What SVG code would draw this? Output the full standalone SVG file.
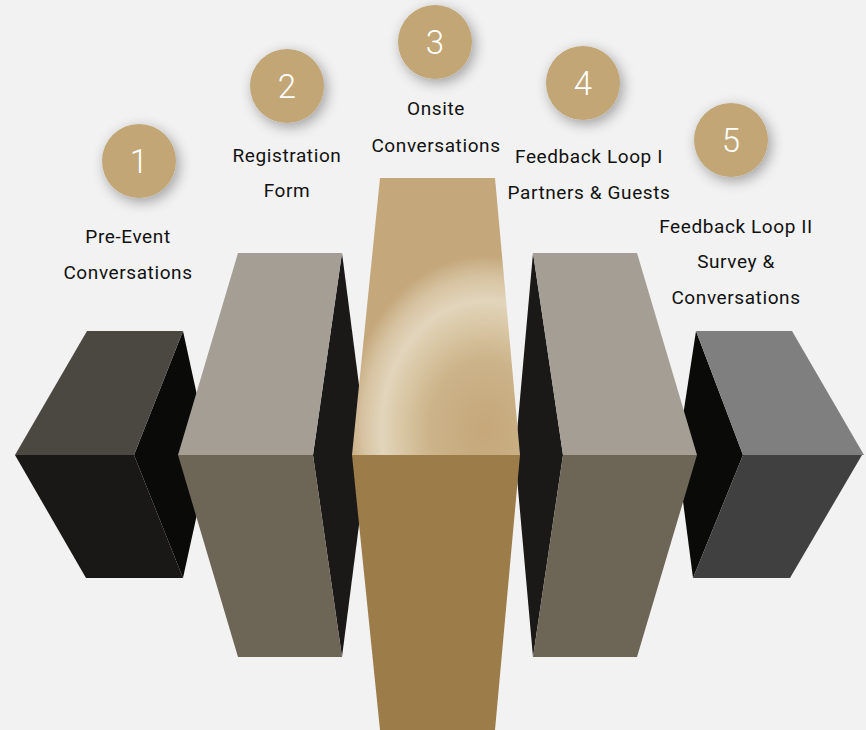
<svg xmlns="http://www.w3.org/2000/svg" width="866" height="730" viewBox="0 0 866 730">
<defs>
<radialGradient id="gold" gradientUnits="userSpaceOnUse" cx="0" cy="0" r="1" gradientTransform="translate(485 430) scale(140 175)">
<stop offset="0" stop-color="#c5a77a"/>
<stop offset="0.4" stop-color="#ccb389"/>
<stop offset="0.6" stop-color="#d9c7a5"/>
<stop offset="0.74" stop-color="#e2d5bc"/>
<stop offset="0.88" stop-color="#d6c2a0"/>
<stop offset="1" stop-color="#c4a77a"/>
</radialGradient>
<filter id="sh" x="-50%" y="-50%" width="200%" height="200%">
<feGaussianBlur in="SourceAlpha" stdDeviation="7"/>
<feOffset dx="3" dy="4" result="b"/>
<feComponentTransfer><feFuncA type="linear" slope="0.35"/></feComponentTransfer>
<feMerge><feMergeNode/><feMergeNode in="SourceGraphic"/></feMerge>
</filter>
</defs>
<style>
.num{font-family:Roboto,"Liberation Sans",sans-serif;font-weight:300;font-size:33px;fill:#ffffff;text-anchor:middle}
.lbl{font-family:Roboto,"Liberation Sans",sans-serif;font-size:19px;letter-spacing:0.6px;fill:#111111;text-anchor:middle}
.circ{fill:#c2a676;filter:url(#sh)}
</style>
<rect width="866" height="730" fill="#f2f2f2"/>

<g id="block1">
<polygon points="183,331 210,455 183,578 134,455" fill="#0a0a08"/>
<polygon points="87,331 183,331 134,455 15,455" fill="#4b4741"/>
<polygon points="15,455 134,455 183,578 86,578" fill="#191816"/>
</g>
<g id="block5">
<polygon points="696,331 743,455 693,578 677,455" fill="#0a0a08"/>
<polygon points="696,331 792,331 864,455 743,455" fill="#7f7f7f"/>
<polygon points="743,455 862,455 790,578 693,578" fill="#404040"/>
</g>
<g id="block2">
<polygon points="342,253 368,455 342,657 313,455" fill="#1a1918"/>
<polygon points="238,253 342,253 313,455 178,455" fill="#a59e94"/>
<polygon points="178,455 313,455 342,657 238,657" fill="#6d6556"/>
</g>
<g id="block4">
<polygon points="533,253 563,455 533,657 515,455" fill="#1a1918"/>
<polygon points="533,253 637,253 697,455 563,455" fill="#a59e94"/>
<polygon points="563,455 697,455 637,657 533,657" fill="#6d6556"/>
</g>
<g id="block3">
<polygon points="380,178 495,178 520,455 352,455" fill="url(#gold)"/>
<polygon points="352,455 520,455 495,730 380,730" fill="#9c7d4a"/>
</g>

<g id="step1">
<circle class="circ" cx="139" cy="161" r="37"/>
<text class="num" x="139" y="173">1</text>
<text class="lbl" x="128" y="243">Pre-Event</text>
<text class="lbl" x="128" y="279">Conversations</text>
</g>
<g id="step2">
<circle class="circ" cx="287" cy="86" r="37"/>
<text class="num" x="287" y="98">2</text>
<text class="lbl" x="287" y="162">Registration</text>
<text class="lbl" x="287" y="197">Form</text>
</g>
<g id="step3">
<circle class="circ" cx="435" cy="42" r="37"/>
<text class="num" x="435" y="54">3</text>
<text class="lbl" x="436" y="115">Onsite</text>
<text class="lbl" x="436" y="152">Conversations</text>
</g>
<g id="step4">
<circle class="circ" cx="583" cy="83" r="37"/>
<text class="num" x="583" y="95">4</text>
<text class="lbl" x="589" y="163">Feedback Loop I</text>
<text class="lbl" x="589" y="199">Partners &amp; Guests</text>
</g>
<g id="step5">
<circle class="circ" cx="731" cy="140" r="37"/>
<text class="num" x="731" y="152">5</text>
<text class="lbl" x="736" y="233">Feedback Loop II</text>
<text class="lbl" x="736" y="268">Survey &amp;</text>
<text class="lbl" x="736" y="304">Conversations</text>
</g>
<g id="connectors"/>
</svg>
